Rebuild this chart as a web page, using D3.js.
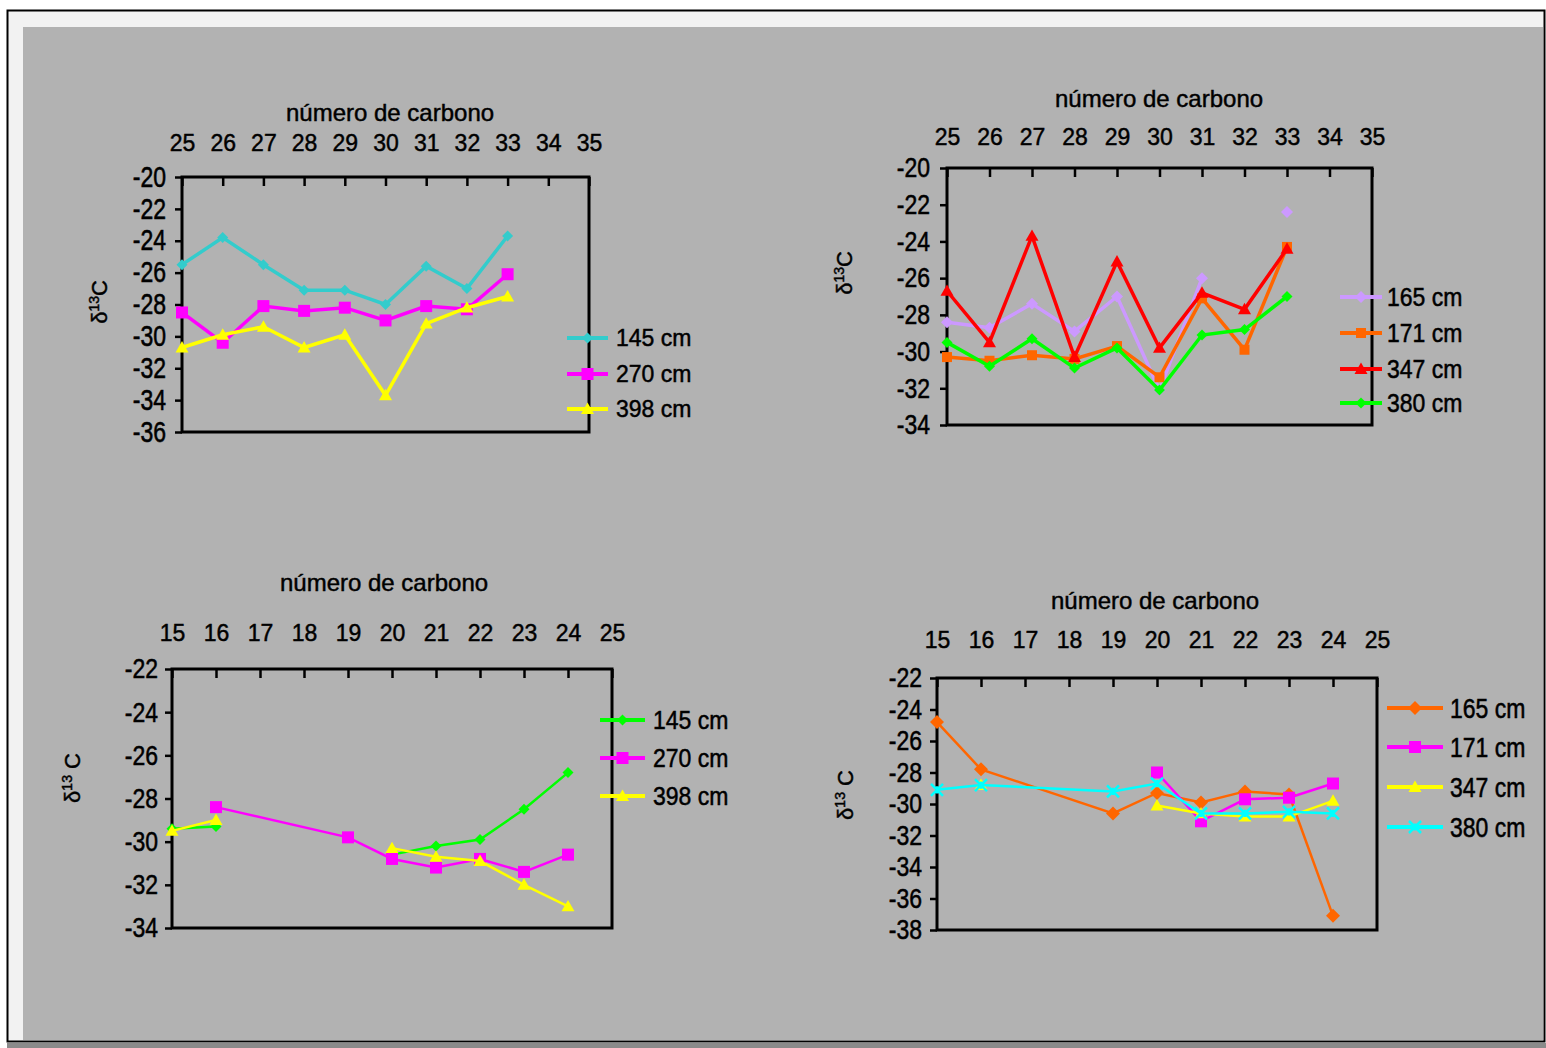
<!DOCTYPE html>
<html>
<head>
<meta charset="utf-8">
<script src="https://cdn.jsdelivr.net/npm/d3@7"></script>
<style>
  html, body { margin: 0; padding: 0; background: #ffffff; }
  svg { display: block; font-family: "Liberation Sans", Arial, sans-serif; }
  svg text { stroke: #000; stroke-width: 0.45px; }
</style>
</head>
<body>
<svg id="chart" width="1546" height="1048"></svg>
<script>
// Carbon-number axes (top axis of each panel)
const axisLong = [25, 26, 27, 28, 29, 30, 31, 32, 33, 34, 35];
const axisShort = [15, 16, 17, 18, 19, 20, 21, 22, 23, 24, 25];

// Chain lengths that carry measurements
const chainsLong = [25, 26, 27, 28, 29, 30, 31, 32, 33];
const chainsShort = [15, 16, 17, 18, 19, 20, 21, 22, 23, 24];

// δ13C tick values
const ticksA = [-20, -22, -24, -26, -28, -30, -32, -34, -36];
const ticksB = [-20, -22, -24, -26, -28, -30, -32, -34];
const ticksC = [-22, -24, -26, -28, -30, -32, -34];
const ticksD = [-22, -24, -26, -28, -30, -32, -34, -36, -38];

// Panel A: long chains, cores 145 / 270 / 398 cm
const a145 = [-25.5, -23.8, -25.5, -27.1, -27.1, -28.0, -25.6, -27.0, -23.7];
const a270 = [-28.5, -30.4, -28.1, -28.4, -28.2, -29.0, -28.1, -28.3, -26.1];
const a398 = [-30.7, -29.9, -29.4, -30.7, -29.9, -33.7, -29.2, -28.2, -27.5];

// Panel B: long chains, cores 165 / 171 / 347 / 380 cm
const b165 = [-28.4, -28.7, -27.4, -28.9, -27.0, -32.1, -26.0, null, -22.4];
const b171 = [-30.3, -30.5, -30.2, -30.4, -29.7, -31.4, -27.1, -29.9, -24.3];
const b347 = [-26.7, -29.5, -23.7, -30.3, -25.1, -29.8, -26.8, -27.7, -24.4];
const b380 = [-29.5, -30.8, -29.3, -30.9, -29.8, -32.1, -29.1, -28.8, -27.0];

// Panel C: short chains, cores 145 / 270 / 398 cm
const c145 = [-29.4, -29.3, null, null, null, -30.6, -30.2, -29.9, -28.5, -26.8];
const c270 = [null, -28.4, null, null, -29.8, -30.8, -31.2, -30.8, -31.4, -30.6];
const c398 = [-29.5, -29.0, null, null, null, -30.3, -30.7, -30.9, -32.0, -33.0];

// Panel D: short chains, cores 165 / 171 / 347 / 380 cm
const d165 = [-24.8, -27.8, null, null, -30.6, -29.3, -29.9, -29.2, -29.4, -37.1];
const d171 = [null, null, null, null, null, -28.0, -31.1, -29.7, -29.6, -28.7];
const d347 = [null, -28.8, null, null, null, -30.1, -30.6, -30.8, -30.8, -29.8];
const d380 = [-29.1, -28.8, null, null, -29.2, -28.7, -30.6, -30.6, -30.5, -30.6];

const svg = d3.select("#chart");

// Sheet frame
svg.append("rect").attr("x", 7.5).attr("y", 10.5).attr("width", 1537).attr("height", 1031)
  .attr("fill", "#f2f2f2").attr("stroke", "#000").attr("stroke-width", 2);
svg.append("rect").attr("x", 23).attr("y", 27).attr("width", 1520).attr("height", 1013)
  .attr("fill", "#b2b2b2");
svg.append("rect").attr("x", 7).attr("y", 1043).attr("width", 1539).attr("height", 5)
  .attr("fill", "#8a8a8a");

function stretchedText(g, x, y, str, size, sy, anchor) {
  return g.append("text")
    .attr("transform", `translate(${x},${y}) scale(1,${sy})`)
    .attr("text-anchor", anchor || "start")
    .attr("font-size", size)
    .attr("fill", "#000")
    .text(str);
}

function markerPath(shape, size) {
  const h = size / 2;
  if (shape === "x") {
    return `M${-h},${-h}L${h},${h}M${-h},${h}L${h},${-h}M0,${-h * 0.6}L0,${h * 0.6}`;
  }
  if (shape === "diamond") {
    return `M0,${-h}L${h},0L0,${h}L${-h},0Z`;
  }
  if (shape === "square") {
    return `M${-h},${-h}H${h}V${h}H${-h}Z`;
  }
  // triangle
  return `M0,${-h}L${h},${h * 0.75}L${-h},${h * 0.75}Z`;
}

function drawMarker(g, shape, size, color, x, y) {
  const p = g.append("path").attr("d", markerPath(shape, size))
    .attr("transform", `translate(${x},${y})`);
  if (shape === "x") p.attr("fill", "none").attr("stroke", color).attr("stroke-width", 2.5);
  else p.attr("fill", color);
}

function drawPanel(cfg) {
  const g = svg.append("g");
  const x = d3.scaleLinear().domain(cfg.xDomain).range([cfg.left, cfg.right]);
  const y = d3.scaleLinear().domain(cfg.yDomain).range([cfg.bottom, cfg.top]);

  // title
  stretchedText(g, cfg.titleX, cfg.titleY, "número de carbono", 24, 1, "middle");

  // top axis: ticks point inward, labels above
  const topAxis = g.append("g").attr("transform", `translate(0,${cfg.top})`)
    .call(d3.axisTop(x).tickValues(cfg.xTicks).tickSize(-9).tickPadding(cfg.top - cfg.xLabelY)
      .tickFormat(d => String(d)));
  topAxis.select(".domain").remove();
  topAxis.selectAll("line").attr("stroke", "#000").attr("stroke-width", 2.5);
  topAxis.selectAll("text").attr("font-size", 23).attr("fill", "#000")
    .attr("font-family", "Liberation Sans, Arial, sans-serif").attr("dy", 0);

  // left axis: ticks point outward
  const leftAxis = g.append("g").attr("transform", `translate(${cfg.left},0)`)
    .call(d3.axisLeft(y).tickValues(cfg.yTicks).tickSize(7).tickPadding(cfg.yPad)
      .tickFormat(d => String(d)));
  leftAxis.select(".domain").remove();
  leftAxis.selectAll("line").attr("stroke", "#000").attr("stroke-width", 2.5);
  leftAxis.selectAll("text").attr("font-size", 23).attr("fill", "#000")
    .attr("font-family", "Liberation Sans, Arial, sans-serif")
    .attr("transform", `scale(1,${cfg.yLabelSy})`);

  // plot frame
  g.append("rect").attr("x", cfg.left).attr("y", cfg.top)
    .attr("width", cfg.right - cfg.left).attr("height", cfg.bottom - cfg.top)
    .attr("fill", "none").attr("stroke", "#000").attr("stroke-width", 3);

  // y title
  const yt = g.append("text")
    .attr("transform", `translate(${cfg.yTitleX},${cfg.yTitleY}) rotate(-90)`)
    .attr("text-anchor", "middle").attr("font-size", 22).attr("fill", "#000");
  yt.append("tspan").text("δ");
  yt.append("tspan").attr("font-size", 14).attr("baseline-shift", "super").text("13");
  yt.append("tspan").text(cfg.yTitleGap ? " C" : "C");

  // series
  cfg.series.forEach(s => {
    const pts = cfg.chains.map((c, i) => ({ c, v: s.values[i] }));
    const line = d3.line().x(d => x(d.c)).y(d => y(d.v));
    if (s.joinGaps) {
      g.append("path").datum(pts.filter(d => d.v != null)).attr("d", line)
        .attr("fill", "none").attr("stroke", s.color).attr("stroke-width", s.width);
    } else {
      g.append("path").datum(pts).attr("d", line.defined(d => d.v != null))
        .attr("fill", "none").attr("stroke", s.color).attr("stroke-width", s.width);
    }
    pts.filter(d => d.v != null).forEach(d =>
      drawMarker(g, s.marker, s.size, s.color, x(d.c), y(d.v)));
  });

  // legend
  cfg.series.forEach((s, i) => {
    const ly = cfg.legendY[i];
    g.append("line").attr("x1", cfg.legendX0).attr("x2", cfg.legendX1)
      .attr("y1", ly).attr("y2", ly).attr("stroke", s.color).attr("stroke-width", 4);
    drawMarker(g, s.marker, s.size, s.color, (cfg.legendX0 + cfg.legendX1) / 2, ly);
    stretchedText(g, cfg.legendTextX, ly + 8 * cfg.legendSy, s.name, 23, cfg.legendSy, "start");
  });
}

drawPanel({
  xDomain: [25, 35], xTicks: axisLong, chains: chainsLong,
  yDomain: [-36, -20], yTicks: ticksA,
  left: 182, right: 589, top: 177, bottom: 432,
  titleX: 390, titleY: 121, xLabelY: 151, yPad: 9, yLabelSy: 1.25,
  yTitleX: 107, yTitleY: 302, yTitleGap: false,
  legendX0: 567, legendX1: 608, legendTextX: 616, legendY: [338, 374, 409], legendSy: 1.05,
  series: [
    { name: "145 cm", values: a145, color: "#33cccc", marker: "diamond", size: 11, width: 3.5 },
    { name: "270 cm", values: a270, color: "#ff00ff", marker: "square", size: 12, width: 3.5 },
    { name: "398 cm", values: a398, color: "#ffff00", marker: "triangle", size: 13, width: 3.5 }
  ]
});

drawPanel({
  xDomain: [25, 35], xTicks: axisLong, chains: chainsLong,
  yDomain: [-34, -20], yTicks: ticksB,
  left: 947, right: 1372, top: 168, bottom: 425,
  titleX: 1159, titleY: 107, xLabelY: 145, yPad: 10, yLabelSy: 1.2,
  yTitleX: 852, yTitleY: 273, yTitleGap: false,
  legendX0: 1340, legendX1: 1382, legendTextX: 1387, legendY: [297, 333, 369, 403], legendSy: 1.15,
  series: [
    { name: "165 cm", values: b165, color: "#cc99ff", marker: "diamond", size: 12, width: 3.5 },
    { name: "171 cm", values: b171, color: "#ff6600", marker: "square", size: 10, width: 3.5 },
    { name: "347 cm", values: b347, color: "#ff0000", marker: "triangle", size: 13, width: 3.5 },
    { name: "380 cm", values: b380, color: "#00ff00", marker: "diamond", size: 11, width: 3.5 }
  ]
});

drawPanel({
  xDomain: [15, 25], xTicks: axisShort, chains: chainsShort,
  yDomain: [-34, -22], yTicks: ticksC,
  left: 172, right: 612, top: 669, bottom: 928,
  titleX: 384, titleY: 591, xLabelY: 641, yPad: 7, yLabelSy: 1.2,
  yTitleX: 80, yTitleY: 778, yTitleGap: true,
  legendX0: 600, legendX1: 645, legendTextX: 653, legendY: [720, 758, 796], legendSy: 1.1,
  series: [
    { name: "145 cm", values: c145, color: "#00ff00", marker: "diamond", size: 11, width: 2.5 },
    { name: "270 cm", values: c270, color: "#ff00ff", marker: "square", size: 12, width: 2.5, joinGaps: true },
    { name: "398 cm", values: c398, color: "#ffff00", marker: "triangle", size: 13, width: 2.5 }
  ]
});

drawPanel({
  xDomain: [15, 25], xTicks: axisShort, chains: chainsShort,
  yDomain: [-38, -22], yTicks: ticksD,
  left: 937, right: 1377, top: 678, bottom: 930,
  titleX: 1155, titleY: 609, xLabelY: 648, yPad: 8, yLabelSy: 1.2,
  yTitleX: 853, yTitleY: 795, yTitleGap: true,
  legendX0: 1387, legendX1: 1443, legendTextX: 1450, legendY: [708, 747, 787, 827], legendSy: 1.2,
  series: [
    { name: "165 cm", values: d165, color: "#ff6600", marker: "diamond", size: 14, width: 2.5, joinGaps: true },
    { name: "171 cm", values: d171, color: "#ff00ff", marker: "square", size: 12, width: 2.5 },
    { name: "347 cm", values: d347, color: "#ffff00", marker: "triangle", size: 13, width: 2.5 },
    { name: "380 cm", values: d380, color: "#00ffff", marker: "x", size: 12, width: 2.5, joinGaps: true }
  ]
});
</script>
</body>
</html>
